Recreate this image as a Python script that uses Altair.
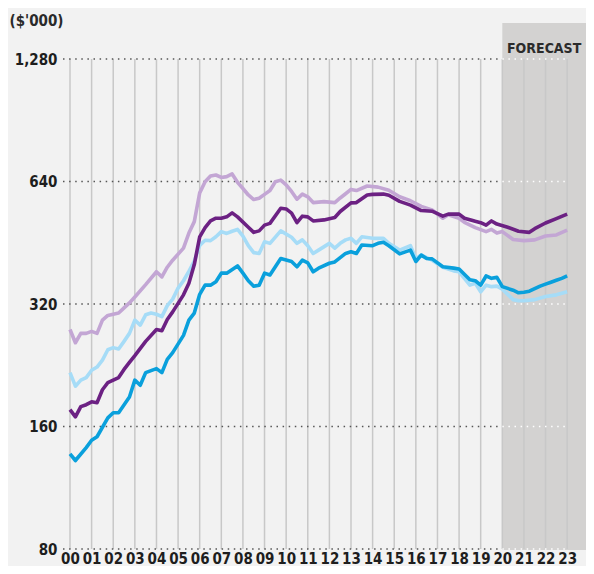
import altair as alt
import pandas as pd

# ---- data ----
years = list(range(24))                 # 2000 .. 2023 (labels "00".."23")
y_ticks = [80, 160, 320, 640, 1280]     # $'000, log scale
forecast_start = 20
forecast_label = "FORECAST"
unit_label = "($'000)"

series_names = ["Series A", "Series B", "Series C", "Series D"]
series_colors = ["#c3a6d4", "#a6dcf7", "#6c2183", "#0aa0dc"]

lp_t = [0, 0.25, 0.5, 0.75, 1, 1.25, 1.5, 1.75, 2.25, 2.5, 2.75, 3, 3.5, 4, 4.25, 4.5, 4.75,
        5.25, 5.5, 5.75, 6, 6.25, 6.5, 6.75, 7, 7.25, 7.5, 7.75, 8, 8.25, 8.5, 8.75, 9, 9.25,
        9.5, 9.75, 10, 10.25, 10.5, 10.75, 11, 11.25, 11.75, 12.25, 12.5, 12.75, 13, 13.25,
        13.75, 14.25, 14.75, 15.25, 15.75, 16.25, 16.75, 17.25, 17.5, 18, 18.25, 18.75, 19.25,
        19.5, 19.75, 20, 20.5, 21, 21.5, 22, 22.5, 23]
lp_v = [277, 257, 271, 271, 274, 271, 292, 300, 304, 313, 322, 333, 357, 384, 373, 394, 410,
        439, 478, 510, 600, 639, 660, 664, 655, 658, 668, 637, 615, 593, 578, 582, 595, 608,
        639, 645, 628, 605, 579, 596, 587, 568, 571, 568, 583, 597, 612, 608,
        624, 620, 609, 587, 574, 556, 545, 520, 530, 520, 508, 493, 482,
        488, 478, 482, 461, 458, 460, 470, 473, 486]

lb_t = [0, 0.25, 0.5, 0.75, 1, 1.25, 1.5, 1.75, 2, 2.25, 2.5, 2.75, 3, 3.25, 3.5, 3.75, 4, 4.25,
        4.5, 4.75, 5, 5.25, 5.5, 5.75, 6, 6.25, 6.5, 6.75, 7, 7.25, 7.5, 7.75, 8, 8.25, 8.5, 8.75,
        9, 9.25, 9.75, 10.25, 10.5, 10.75, 11, 11.25, 11.5, 12, 12.25, 12.5, 12.75, 13, 13.25,
        13.5, 14, 14.5, 14.75, 15.25, 15.75, 16, 16.25, 16.75, 17.25, 17.75, 18, 18.5, 18.75,
        19, 19.25, 19.5, 19.75, 20, 20.25, 20.5, 20.75, 21, 21.5, 22, 22.5, 23]
lb_v = [217, 201, 208, 211, 220, 224, 233, 247, 250, 248, 259, 271, 292, 284, 301, 304, 302, 298,
        317, 329, 350, 365, 385, 408, 446, 459, 458, 468, 482, 477, 483, 488, 470, 445, 428, 426,
        455, 451, 484, 467, 451, 460, 445, 426, 434, 451, 439, 451, 460, 464, 451,
        468, 464, 464, 451, 434, 445, 414, 422, 410, 394, 386, 384, 356, 360,
        343, 356, 353, 354, 348, 338, 328, 326, 326, 328, 334, 337, 343]

dp_t = [0, 0.25, 0.5, 0.75, 1, 1.25, 1.5, 1.75, 2.25, 2.5, 2.75, 3, 3.5, 4, 4.25, 4.5, 4.75,
        5.25, 5.5, 5.75, 6, 6.25, 6.5, 6.75, 7, 7.25, 7.5, 7.75, 8.25, 8.5, 8.75, 9, 9.25,
        9.75, 10, 10.25, 10.5, 10.75, 11, 11.25, 11.75, 12.25, 12.5, 13, 13.25, 13.75, 14,
        14.5, 14.75, 15.25, 15.75, 16.25, 16.75, 17.25, 17.5, 18, 18.25, 18.75, 19, 19.25,
        19.5, 19.75, 20.25, 20.75, 21.25, 21.5, 22, 22.5, 23]
dp_v = [176, 169, 179, 181, 184, 183, 197, 205, 211, 221, 230, 239, 259, 277, 275, 293, 306,
        337, 360, 400, 468, 493, 512, 520, 520, 524, 536, 524, 494, 480, 484, 500, 505,
        550, 548, 535, 507, 526, 524, 512, 515, 522, 540, 567, 568, 593, 595,
        596, 592, 572, 560, 543, 541, 526, 532, 532, 520, 511, 507, 500,
        512, 503, 494, 483, 480, 490, 506, 519, 532]

db_t = [0, 0.25, 0.75, 1, 1.25, 1.75, 2, 2.25, 2.75, 3, 3.25, 3.5, 4, 4.25, 4.5, 4.75, 5.25,
        5.5, 5.75, 6, 6.25, 6.5, 6.75, 7, 7.25, 7.75, 8, 8.25, 8.5, 8.75, 9, 9.25, 9.75, 10.25,
        10.5, 10.75, 11, 11.25, 11.5, 12, 12.25, 12.75, 13, 13.25, 13.5, 14, 14.25, 14.5,
        14.75, 15, 15.25, 15.75, 16, 16.25, 16.5, 16.75, 17.25, 17.75, 18, 18.5, 18.75, 19,
        19.25, 19.5, 19.75, 20, 20.5, 20.75, 21, 21.25, 21.5, 21.75, 22, 22.25, 22.5, 22.75, 23]
db_v = [137, 132, 142, 148, 151, 168, 173, 173, 189, 208, 202, 217, 222, 217, 234, 243, 268,
        292, 304, 338, 356, 356, 363, 381, 381, 397, 381, 365, 354, 356, 381, 377, 414, 407,
        395, 410, 404, 384, 392, 403, 406, 426, 430, 426, 447, 445, 451, 454,
        445, 435, 425, 434, 407, 422, 414, 413, 395, 392, 390, 367, 365, 356,
        375, 370, 372, 353, 346, 341, 342, 344, 349, 354, 358, 362, 366, 370, 375]

series_t = [lp_t, lb_t, dp_t, db_t]
series_v = [lp_v, lb_v, dp_v, db_v]

# ---- layout / style ----
W, H = 523, 527
FONT = "DejaVu Sans Condensed, Roboto, sans-serif"
X_MIN, X_MAX = -0.324, 23.872
xscale = alt.Scale(domain=[X_MIN, X_MAX], nice=False, zero=False)
yscale = alt.Scale(type="log", domain=[79.55, 1569.2], nice=False)

xa = alt.Axis(values=years, format="02d", domain=False, ticks=False, grid=False,
              labelFont=FONT, labelFontSize=15, labelFontWeight="bold",
              labelColor="#1e1e1e", labelPadding=1, labelFlush=False, title=None)
ya = alt.Axis(values=y_ticks, format=",d", domain=False, ticks=False, grid=False,
              labelFont=FONT, labelFontSize=15, labelFontWeight="bold",
              labelColor="#1e1e1e", labelPadding=6,
              title=unit_label, titleAngle=0, titleAlign="left",
              titleBaseline="alphabetic", titleX=-54, titleY=2,
              titleFont=FONT, titleFontSize=15, titleFontWeight="bold",
              titleColor="#2a2a2a")

shade_df = pd.DataFrame({"start": [forecast_start], "end": [X_MAX],
                         "label": [forecast_label],
                         "mid": [(forecast_start + X_MAX) / 2]})
years_df = pd.DataFrame({"year": years})
ticks_df = pd.DataFrame({"v": y_ticks})

shade = alt.Chart(shade_df).mark_rect(color="#d3d2d1").encode(
    x=alt.X("start:Q", scale=xscale, axis=xa),
    x2="end:Q",
    y=alt.value(0), y2=alt.value(H),
)

vgrid = alt.Chart(years_df).mark_rule(color="#c8c8c8", strokeWidth=1.5).encode(
    x=alt.X("year:Q", scale=xscale, axis=xa),
    y=alt.Y(datum=min(y_ticks), scale=yscale, axis=ya),
    y2=alt.datum(max(y_ticks)),
)

hgrid_dark = alt.Chart(ticks_df).mark_rule(color="#555555", strokeWidth=1.5,
                                           strokeDash=[1.5, 4.6]).encode(
    y=alt.Y("v:Q", scale=yscale, axis=ya),
    x=alt.X(datum=X_MIN, scale=xscale, axis=xa),
    x2=alt.datum(forecast_start),
)
hgrid_white = alt.Chart(ticks_df).mark_rule(color="#ffffff", strokeWidth=1.5,
                                            strokeDash=[1.5, 4.6]).encode(
    y=alt.Y("v:Q", scale=yscale, axis=ya),
    x=alt.X(datum=forecast_start, scale=xscale, axis=xa),
    x2=alt.datum(max(years)),
)

lines = []
for name, col, ts, vs in zip(series_names, series_colors, series_t, series_v):
    df = pd.DataFrame({"t": ts, "v": vs, "series": name})
    lines.append(
        alt.Chart(df).mark_line(color=col, strokeWidth=3.6, strokeJoin="round").encode(
            x=alt.X("t:Q", scale=xscale, axis=xa),
            y=alt.Y("v:Q", scale=yscale, axis=ya),
        )
    )

ftext = alt.Chart(shade_df).mark_text(font=FONT, fontSize=14, fontWeight="bold",
                                      color="#2b2b2b", baseline="alphabetic",
                                      align="center").encode(
    x=alt.X("mid:Q", scale=xscale, axis=xa),
    y=alt.value(30),
    text="label:N",
)

chart = alt.layer(shade, vgrid, hgrid_dark, hgrid_white, *lines, ftext).properties(
    width=W, height=H,
    padding={"left": 55, "top": 15, "right": 0, "bottom": 16},
    autosize=alt.AutoSizeParams(type="none"),
    background="#f2f2f2",
).configure_view(stroke=None)

chart.save("out.html", embed_options={"renderer": "svg", "actions": False})
